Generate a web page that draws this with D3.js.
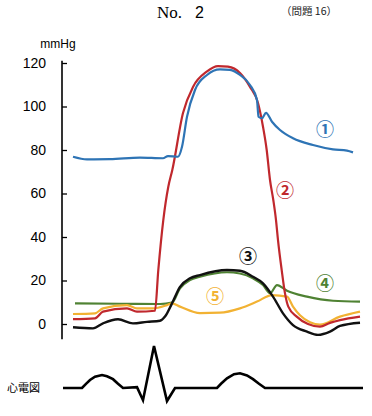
<html>
<head>
<meta charset="UTF-8">
<script src="https://d3js.org/d3.v7.min.js"></script>
<style>
body{margin:0;background:#fff;}
svg{display:block;}
</style>
</head>
<body>
<svg width="372" height="416"></svg>
<script>
// time (px-ish units from axis) , pressure mmHg
var yTicks = [0, 20, 40, 60, 80, 100, 120];

var aorta = [[11,76.9],[25,75.7],[48,75.8],[78,76.5],[101,76.2],[106,77.2],[116,76.9],[120,81.5],[125,95.3],[133,107.6],[145,114.5],[158,117.1],[168,116.8],[178,114.5],[188,109.9],[195,103],[196.5,95.3],[200,94.6],[204,97.1],[210,93],[218,89.2],[231,85.4],[251,82.3],[271,80.3],[285,79.7],[291,78.9]];
var ventricle = [[11,2.2],[33,2.6],[41,5.7],[65,7.2],[75,5.7],[93,6.1],[96.3,24.8],[101.3,47.8],[106.3,63.1],[110.3,70.8],[121,97],[131,109],[144.7,116],[156,118.6],[166,118.3],[178,115.4],[188,109],[196,101.6],[201,90.7],[204.7,80],[208,66.2],[211.3,57],[214,47.8],[216,38.6],[219.7,24.8],[223,14.1],[226.3,8],[234.7,3.4],[246,0],[258,-1.2],[268,0.5],[278,1.8],[298,3.4]];
var atrium = [[11,-1.5],[31,-2],[41,0.3],[56,2.2],[71,0.3],[85,1],[98,1.5],[103,3.4],[110,9.5],[118,17.1],[128,21],[138,22.5],[165,24.8],[178,24.5],[191,21.7],[201,18.7],[211,12.6],[221,4.9],[231,-0.5],[245,-3.5],[256,-5],[268,-3.5],[278,-0.9],[298,0.6]];
var venous = [[13,9.5],[58,9.3],[98,9.2],[110,9.8],[118,16.4],[128,20.2],[138,21.7],[165,23.8],[178,23.2],[191,21],[201,17.9],[208,14.1],[215,17.9],[225,15.3],[245,12.6],[271,10.7],[298,10.3]];
var wedge = [[11,4.6],[33,4.9],[41,7.2],[65,8.7],[75,7.2],[91,7.2],[105,8.7],[110,9.5],[118,8],[138,5],[158,5.2],[178,7.2],[195,10.3],[210,13.3],[225,12.6],[231,8],[238,4],[248,0.8],[258,-0.3],[278,3.4],[298,5.7]];
var ecg = [[1,0],[20,0],[24,0.1],[28,0.19],[33,0.27],[40,0.31],[45,0.28],[51,0.21],[56,0.1],[61,0],[75,0.02],[81,-0.29],[92,1],[105,-0.31],[113,0],[155,0],[159,0.1],[165,0.23],[172,0.33],[178,0.35],[185,0.3],[191,0.21],[197,0.1],[203,0],[301,0]];

var seriesNames = ["①","②","③","④","⑤"];
var seriesColors = ["#2e74b5","#c0282d","#111111","#4f8233","#f2b233"];
var seriesData = [aorta, ventricle, atrium, venous, wedge];

var svg = d3.select("svg");

var xScale = d3.scaleLinear().domain([0,300]).range([62,362]);
var yScale = d3.scaleLinear().domain([0,120]).range([324,63]);
var ecgScale = d3.scaleLinear().domain([0,1]).range([388,346]);

// title
svg.append("text").attr("x",182).attr("y",18).attr("text-anchor","end")
   .style("font-family","Liberation Serif").style("font-size","17px").text("No.");
svg.append("text").attr("x",195).attr("y",18)
   .style("font-family","Liberation Sans").style("font-size","16px").text("2");
svg.append("text").attr("x",281).attr("y",15)
   .style("font-family","Noto Sans CJK JP").style("font-size","10.5px").style("fill","#222").text("（問題 16）");

// axis
var yAxis = d3.axisLeft(yScale).tickValues(yTicks).tickSize(-5).tickPadding(16);
var ax = svg.append("g").attr("transform","translate(62,0)").call(yAxis);
ax.select(".domain").remove();
ax.selectAll("line").attr("stroke","#000").attr("stroke-width",1.3);
ax.selectAll("text").style("font-family","Liberation Sans").style("font-size","14px").attr("fill","#000");
svg.append("line").attr("x1",62).attr("x2",62)
   .attr("y1",yScale(121)).attr("y2",yScale(-7))
   .attr("stroke","#000").attr("stroke-width",1.6);
svg.append("text").attr("x",58).attr("y",48).attr("text-anchor","middle")
   .style("font-family","Liberation Sans").style("font-size","12px").text("mmHg");

var line = d3.line()
   .x(function(d){ return xScale(d[0]); })
   .y(function(d){ return yScale(d[1]); })
   .curve(d3.curveMonotoneX);

// draw order: green, yellow, red, black, blue
[3,4,1,2,0].forEach(function(i){
  svg.append("path").datum(seriesData[i])
     .attr("d",line)
     .attr("fill","none")
     .attr("stroke",seriesColors[i])
     .attr("stroke-width", i==2 ? 2.4 : 2.2)
     .attr("stroke-linejoin","round");
});

// circled labels
var labelPos = [[263,136],[223,197],[186,263],[263,290],[153,303]];
svg.selectAll("text.lbl").data(seriesNames).enter().append("text")
   .classed("lbl",true)
   .attr("x",function(d,i){ return labelPos[i][0]+62; })
   .attr("y",function(d,i){ return labelPos[i][1]; })
   .attr("text-anchor","middle")
   .style("fill",function(d,i){ return seriesColors[i]; })
   .style("font-family","Noto Sans CJK JP")
   .style("font-weight","bold")
   .style("font-size","18px")
   .text(function(d){ return d; });

// ECG
var ecgLine = d3.line()
   .x(function(d){ return xScale(d[0]); })
   .y(function(d){ return ecgScale(d[1]); });
svg.append("path").datum(ecg)
   .attr("d",ecgLine)
   .attr("fill","none")
   .attr("stroke","#000")
   .attr("stroke-width",2.6)
   .attr("stroke-linejoin","miter");
svg.append("text").attr("x",7).attr("y",392)
   .attr("fill","#000")
   .style("font-family","Noto Sans CJK SC").style("font-size","11px").text("心電図");
</script>
</body>
</html>
